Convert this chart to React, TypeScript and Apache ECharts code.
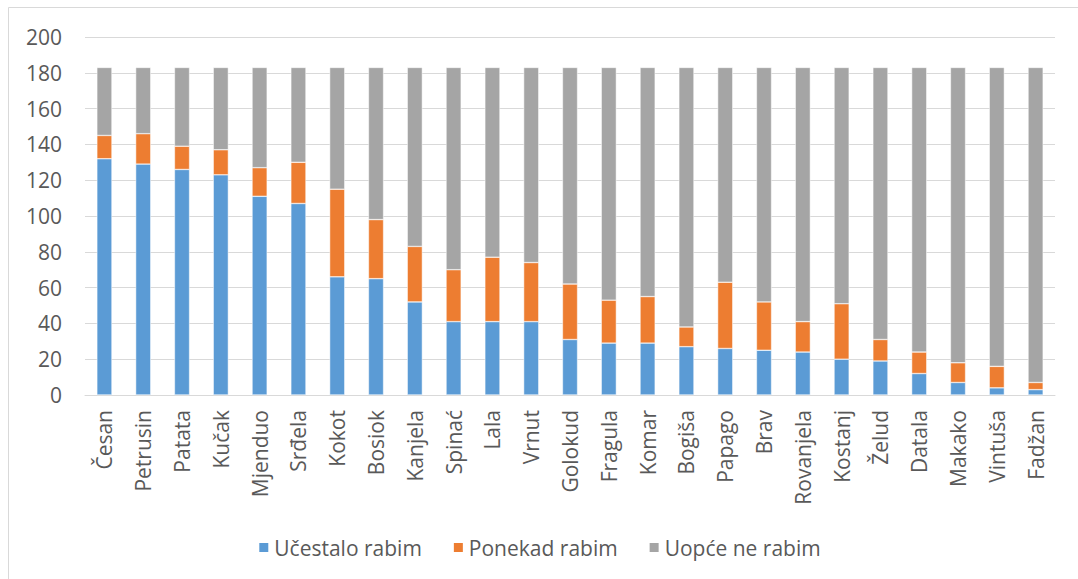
import React, { useEffect, useRef } from "react";
import * as echarts from "echarts";

const categories = [
  "Česan", "Petrusin", "Patata", "Kučak", "Mjenduo", "Srđela", "Kokot", "Bosiok",
  "Kanjela", "Spinać", "Lala", "Vrnut", "Golokud", "Fragula", "Komar", "Bogiša",
  "Papago", "Brav", "Rovanjela", "Kostanj", "Želud", "Datala", "Makako", "Vintuša", "Fadžan",
];

const cesto = [132, 129, 126, 123, 111, 107, 66, 65, 52, 41, 41, 41, 31, 29, 29, 27, 26, 25, 24, 20, 19, 12, 7, 4, 3];
const ponekad = [13, 17, 13, 14, 16, 23, 49, 33, 31, 29, 36, 33, 31, 24, 26, 11, 37, 27, 17, 31, 12, 12, 11, 12, 4];
const nikad = [38, 37, 44, 46, 56, 53, 68, 85, 100, 113, 106, 109, 121, 130, 128, 145, 120, 131, 142, 132, 152, 159, 165, 167, 176];

const seriesNames = ["Učestalo rabim", "Ponekad rabim", "Uopće ne rabim"];
const colors = ["#5b9bd5", "#ed7d31", "#a5a5a5"];

export default function App() {
  const ref = useRef<HTMLDivElement>(null);
  useEffect(() => {
    if (!ref.current) return;
    const chart = echarts.init(ref.current, undefined, { renderer: "svg" });
    const font = "'Open Sans', sans-serif";
    const data = [cesto, ponekad, nikad];
    chart.setOption({
      animation: false,
      backgroundColor: "#ffffff",
      textStyle: { fontFamily: font },
      graphic: [
        {
          type: "rect",
          shape: { x: 8.5, y: 7.5, width: 1200, height: 700 },
          style: { fill: "none", stroke: "#d9d9d9", lineWidth: 1 },
          silent: true,
        },
      ],
      grid: { left: 85, right: 23, top: 37, bottom: 184, containLabel: false },
      legend: {
        bottom: 16,
        left: "center",
        itemWidth: 11,
        itemHeight: 11,
        itemGap: 30,
        icon: "rect",
        textStyle: { color: "#595959", fontSize: 21, fontFamily: font },
        data: seriesNames,
      },
      xAxis: {
        type: "category",
        data: categories,
        axisLine: { lineStyle: { color: "#d9d9d9", width: 1 } },
        axisTick: { show: false },
        axisLabel: { rotate: 90, color: "#595959", fontSize: 21, margin: 15, interval: 0, fontFamily: font },
      },
      yAxis: {
        type: "value",
        min: 0,
        max: 200,
        interval: 20,
        axisLine: { show: false },
        axisTick: { show: false },
        axisLabel: { color: "#595959", fontSize: 21, margin: 23, fontFamily: font },
        splitLine: { lineStyle: { color: "#d9d9d9", width: 1 } },
      },
      series: data.map((d, i) => ({
        name: seriesNames[i],
        type: "bar",
        stack: "total",
        data: d,
        barWidth: "39%",
        itemStyle: { color: colors[i], borderColor: "#ffffff", borderWidth: 0.5 },
      })),
    });
    return () => chart.dispose();
  }, []);
  return <div ref={ref} style={{ position: "fixed", left: 0, top: 0, width: 1078, height: 579 }} />;
}
